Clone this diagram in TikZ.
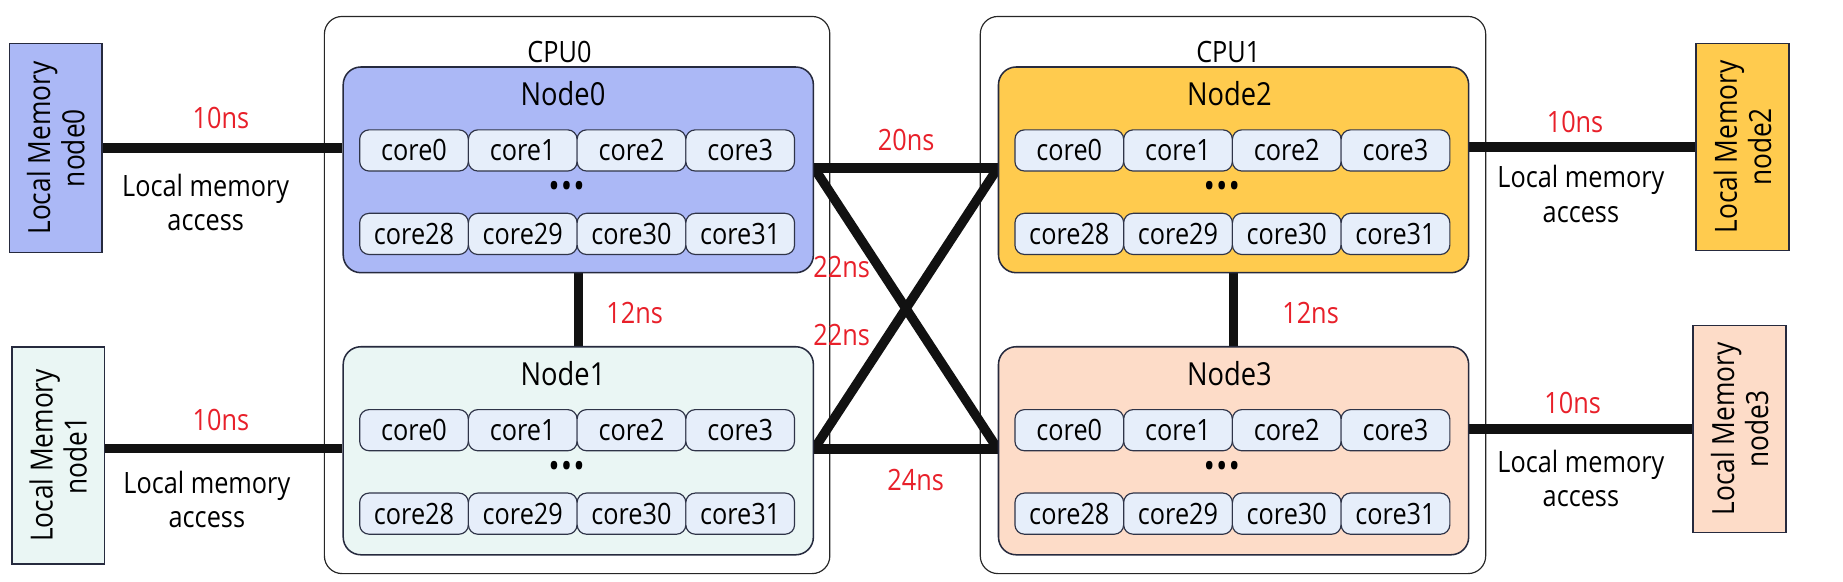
\documentclass[tikz,border=0pt]{standalone}
\usepackage{fontspec}
\setmainfont[FakeStretch=0.86]{Open Sans}
\usetikzlibrary{calc}
\definecolor{nzero}{HTML}{ABB8F6}
\definecolor{nfirst}{HTML}{EAF6F4}
\definecolor{ntwo}{HTML}{FFCB4E}
\definecolor{nthree}{HTML}{FDDCC8}
\definecolor{corefill}{HTML}{E6EEFA}
\definecolor{coreedge}{HTML}{2F3448}
\definecolor{edgec}{HTML}{262A3E}
\definecolor{latred}{HTML}{E8202A}
\definecolor{linec}{HTML}{111111}
\newcommand{\txt}{\fontsize{25}{29}\selectfont}
\newcommand{\bigtxt}{\fontsize{27}{31}\selectfont}
\newcommand{\memfont}{\fontsize{26}{29}\selectfont}
\pgfdeclarelayer{back}
\pgfdeclarelayer{mid}
\pgfsetlayers{back,mid,main}
\begin{document}
\begin{tikzpicture}[x=1pt,y=-1pt,
  cpubox/.style={draw=black!85, line width=1pt, rounded corners=15pt, fill=white, minimum width=430pt, minimum height=474pt, inner sep=0pt},
  numabox/.style={draw=edgec, line width=1.3pt, rounded corners=15pt, minimum width=400pt, inner sep=0pt},
  corebox/.style={draw=coreedge, line width=1pt, fill=corefill, rounded corners=8pt, minimum width=92.5pt, minimum height=35pt, inner sep=0pt, font=\txt},
  membox/.style={draw=edgec, line width=1.3pt, minimum width=79pt, inner sep=0pt},
  memtxt/.style={rotate=90, align=center, font=\memfont, inner sep=0pt},
  link/.style={line width=8pt, draw=linec},
  lat/.style={text=latred, font=\txt, inner sep=0pt},
  lbl/.style={font=\txt, inner sep=0pt, align=center},
  nlbl/.style={font=\bigtxt, inner sep=0pt},
  dots/.style={font=\fontsize{30}{30}\selectfont, inner sep=0pt}
]
\path[use as bounding box] (0,0) rectangle (1568,495);

% CPU packages
\begin{pgfonlayer}{back}
\node[cpubox] (cpu0) at (491,251) {};
\node[cpubox] (cpu1) at (1049,251) {};
\end{pgfonlayer}
\node[lbl] (cpu0l) at (476,44) {CPU0};
\node[lbl] (cpu1l) at (1045,44) {CPU1};

% NUMA nodes
\node[numabox, fill=nzero, minimum height=175pt] (n0) at (492,144.5) {};
\node[numabox, fill=nfirst, minimum height=177pt] (n1) at (492,383.5) {};
\node[numabox, fill=ntwo, minimum height=175pt] (n2) at (1049.5,144.5) {};
\node[numabox, fill=nthree, minimum height=177pt] (n3) at (1049.5,383.5) {};
\node[nlbl] (n0l) at (479,80) {Node0};
\node[nlbl] (n1l) at (479,318) {Node1};
\node[nlbl] (n2l) at (1046,80) {Node2};
\node[nlbl] (n3l) at (1046,318) {Node3};

% cores
\foreach \n/\dx/\dy in {0/0/0, 1/0/238, 2/557.5/0, 3/557.5/238}{
  \foreach \c/\i in {0/0,1/1,2/2,3/3}{
    \node[corebox] (c\n-\c) at (352.25+92.5*\i+\dx,128+\dy) {core\c};
  }
  \foreach \c/\i in {28/0,29/1,30/2,31/3}{
    \node[corebox] (c\n-\c) at (352.25+92.5*\i+\dx,199+\dy) {core\c};
  }
  \node[dots] (d\n) at (482+\dx,162+\dy) {\textbullet\kern1pt\textbullet\kern1pt\textbullet};
}

% local memories
\node[membox, fill=nzero, minimum height=178pt] (lm0) at (47.5,126) {};
\node[membox, fill=nfirst, minimum height=185pt] (lm1) at (49.5,387.5) {};
\node[membox, fill=ntwo, minimum height=176pt] (lm2) at (1482.5,125) {};
\node[membox, fill=nthree, minimum height=176pt] (lm3) at (1480,365) {};
\node[memtxt] (lm0t) at (lm0) {Local Memory\\node0};
\node[memtxt] (lm1t) at (lm1) {Local Memory\\node1};
\node[memtxt] (lm2t) at (lm2) {Local Memory\\node2};
\node[memtxt] (lm3t) at (lm3) {Local Memory\\node3};

% links
\coordinate (l1) at ($(lm1.east)+(0,-6)$);
\begin{pgfonlayer}{mid}
\draw[link] (lm0.east) -- (lm0.east -| n0.west);
\draw[link] (l1) -- (l1 -| n1.west);
\draw[link] (lm2.west) -- (lm2.west -| n2.east);
\draw[link] (lm3.west) -- (lm3.west -| n3.east);
\draw[link] (n0.south) -- (n1.north);
\draw[link] (n2.south) -- (n3.north);
\draw[link] ([yshift=1.5pt]n0.east) -- ([yshift=1.5pt]n2.west);
\draw[link] ([yshift=1.5pt]n1.east) -- ([yshift=1.5pt]n3.west);
\draw[link] ([yshift=1.5pt]n0.east) -- ([yshift=1.5pt]n3.west);
\draw[link] ([yshift=1.5pt]n1.east) -- ([yshift=1.5pt]n2.west);
\end{pgfonlayer}

% latencies
\node[lat] (t0) at (188,100) {10ns};
\node[lat] (t1) at (188,357) {10ns};
\node[lat] (t2) at (1340,104) {10ns};
\node[lat] (t3) at (1338,343) {10ns};
\node[lat] (t4) at (540,266) {12ns};
\node[lat] (t5) at (1115,266) {12ns};
\node[lat] (t6) at (771,119) {20ns};
\node[lat] (t7) at (779,408) {24ns};
\node[lat] (t8) at (716,227) {22ns};
\node[lat] (t9) at (716,285) {22ns};

% access labels
\node[lbl] (a0) at (175,172) {Local memory\\access};
\node[lbl] (a1) at (176,425) {Local memory\\access};
\node[lbl] (a2) at (1345,165) {Local memory\\access};
\node[lbl] (a3) at (1345,407) {Local memory\\access};
\end{tikzpicture}
\end{document}
